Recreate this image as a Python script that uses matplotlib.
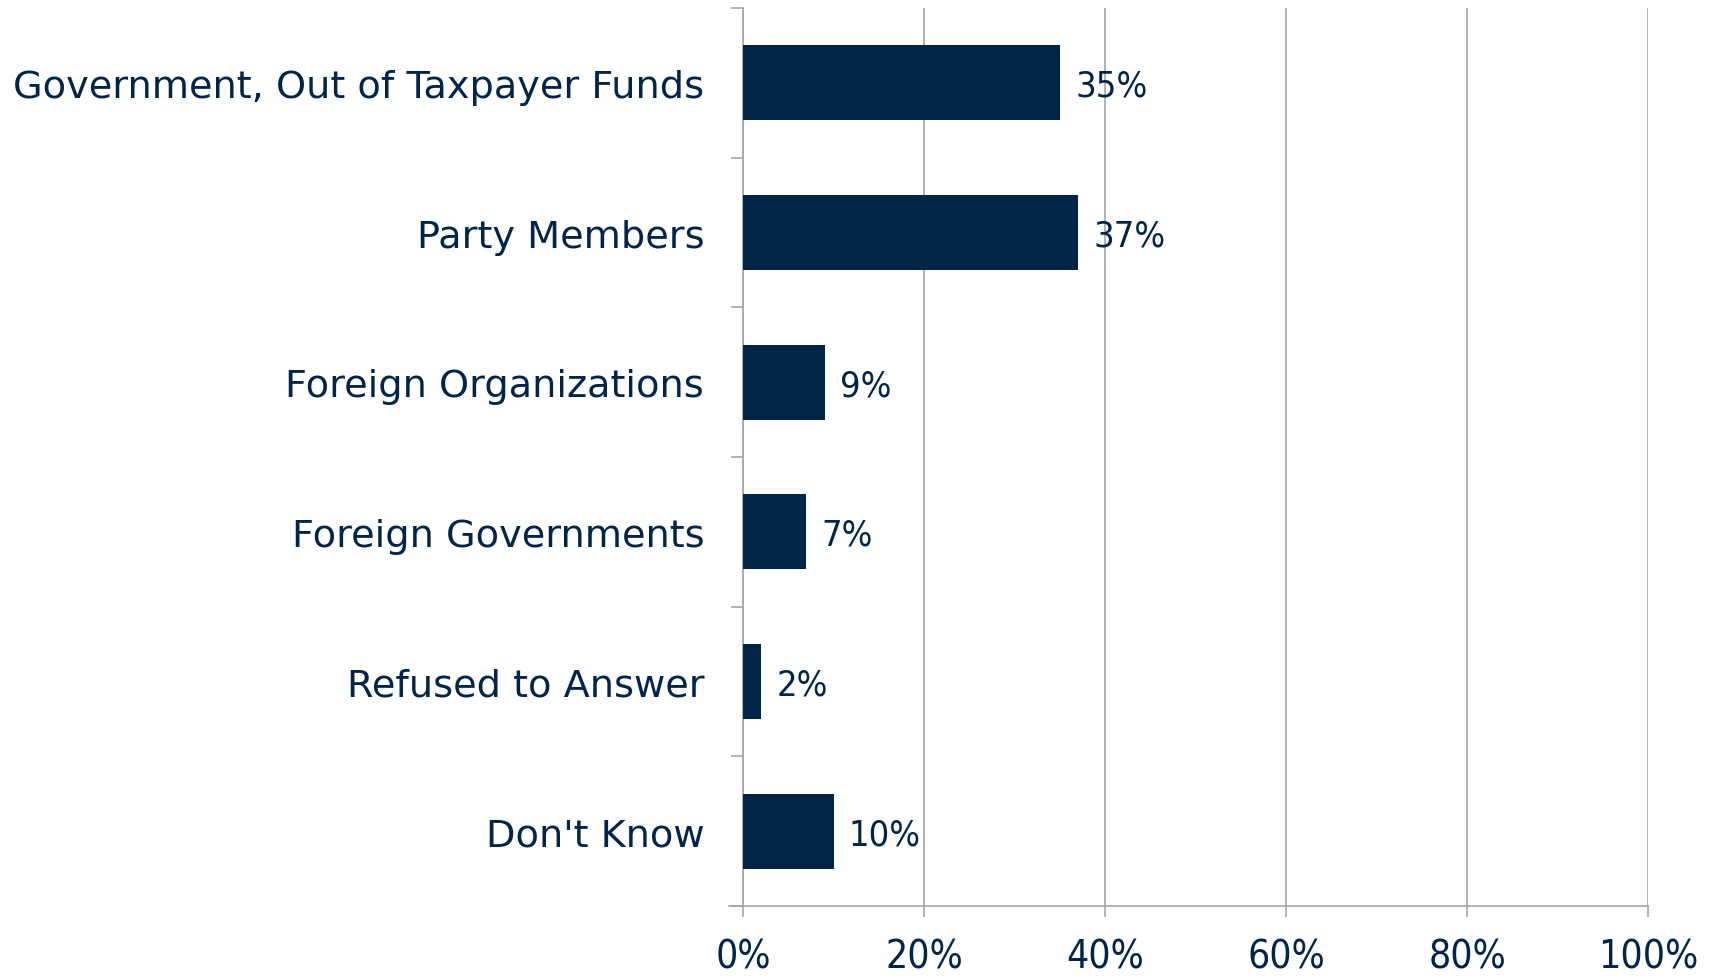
import matplotlib.pyplot as plt
import numpy as np

# survey answers, top to bottom
categories = ["Government, Out of Taxpayer Funds", "Party Members",
              "Foreign Organizations", "Foreign Governments",
              "Refused to Answer", "Don't Know"]
shares = [35, 37, 9, 7, 2, 10]
xticks = [0, 20, 40, 60, 80, 100]

navy = "#012549"
grey = "#a6a6a6"

fig = plt.figure(figsize=(17.09, 9.79), dpi=100)
ax = fig.add_axes([0.4348, 0.0735, 0.5295, 0.9173])

y = np.arange(len(categories))
ax.barh(y, shares, height=0.5, color=navy, zorder=3)
for yi, v in zip(y, shares):
    ax.text(v + 1.7, yi + 0.02, f"{v}%", va="center", ha="left",
            fontsize=26, color=navy, family="DejaVu Sans",
            fontstretch="condensed")

ax.set_xlim(0, 100)
ax.set_ylim(len(categories) - 0.5, -0.5)
ax.set_xticks(xticks)
ax.set_xticklabels([f"{t}%" for t in xticks], fontsize=28, color=navy,
                   family="DejaVu Sans", fontstretch="condensed")
ax.xaxis.grid(True, color=grey, lw=1.2, zorder=0)

# category names sit between boundary ticks
ax.set_yticks(np.arange(-0.5, len(categories)), minor=False)
ax.set_yticklabels([])
ax.set_yticks(y, minor=True)
ax.set_yticklabels(categories, minor=True, fontsize=27.5, color=navy,
                   family="DejaVu Sans")
ax.tick_params(axis="y", which="minor", length=0, pad=28)
ax.tick_params(axis="y", which="major", length=8.5, color=grey, width=1.2)
ax.tick_params(axis="x", length=8, color=grey, width=1.2, pad=15)

for s in ["top", "right"]:
    ax.spines[s].set_visible(False)
for s in ["left", "bottom"]:
    ax.spines[s].set_color(grey)
    ax.spines[s].set_linewidth(1.2)
ax.spines["bottom"].set_bounds(-1.5, 100)
ax.spines["bottom"].set_clip_on(False)

fig.savefig("out.png", dpi=100, facecolor="white")
